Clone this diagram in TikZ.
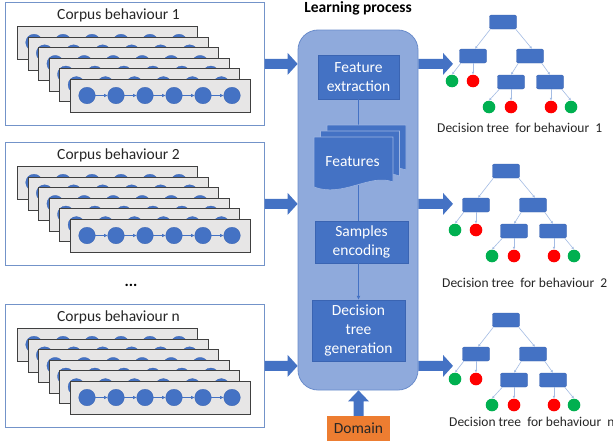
\documentclass[tikz,border=0pt]{standalone}
\usepackage{fontspec}
\setmainfont{Carlito}
\usetikzlibrary{calc,arrows.meta}

\definecolor{accent}{HTML}{4472C4}
\definecolor{accentdark}{HTML}{3A64B2}
\definecolor{panelfill}{HTML}{8FAADC}
\definecolor{paneledge}{HTML}{6A8CCB}
\definecolor{corpusedge}{HTML}{7393C9}
\definecolor{seqfill}{HTML}{E7E6E6}
\definecolor{seqedge}{HTML}{404040}
\definecolor{docedge}{HTML}{9DB5E2}
\definecolor{leafgreen}{HTML}{00B050}
\definecolor{leafred}{HTML}{FF0000}
\definecolor{domainfill}{HTML}{ED7D31}
\definecolor{treeedge}{HTML}{A4BCE4}
\definecolor{inktext}{HTML}{262626}

\tikzset{
  bigfont/.style={font=\fontsize{15.5}{19}\selectfont},
  corpusbox/.style={draw=corpusedge, line width=0.8pt, fill=white,
    minimum width=259, minimum height=123, anchor=north west, inner sep=0},
  seqrect/.style={draw=seqedge, fill=seqfill, line width=0.7pt,
    minimum width=180, minimum height=33, anchor=north west, inner sep=0},
  seqdot/.style={circle, fill=accent, draw=accentdark, line width=0.3pt,
    minimum size=16.6, inner sep=0},
  seqlink/.style={draw=accent, line width=0.6pt, -{Latex[length=3.5pt,width=3.5pt]}},
  titletext/.style={bigfont, text=inktext, inner sep=0},
  learnbox/.style={draw=paneledge, line width=0.8pt, fill=panelfill,
    rounded corners=20pt, minimum width=120, minimum height=360, inner sep=0},
  procbox/.style={bigfont, fill=accent, draw=accentdark, line width=0.5pt,
    text=white, align=center, inner sep=0},
  proctext/.style={bigfont, text=white, inner sep=0},
  procline/.style={draw=accent, line width=0.7pt},
  docstyle/.style={fill=accent, draw=docedge, line width=0.6pt},
  fatfill/.style={fill=accent},
  domainbox/.style={bigfont, fill=domainfill, text=inktext,
    minimum width=63, minimum height=25, inner sep=0},
  tbox/.style={fill=accent, draw=accentdark, line width=0.4pt, rounded corners=2pt,
    minimum width=27, minimum height=14, inner sep=0},
  leafg/.style={circle, fill=leafgreen, minimum size=12.6, inner sep=0},
  leafr/.style={circle, fill=leafred, minimum size=12.6, inner sep=0},
  tedge/.style={draw=treeedge, line width=0.6pt, -{Latex[length=2.6pt,width=2.6pt]}},
  tlabel/.style={font=\fontsize{13.5}{15}\selectfont, text=inktext, inner sep=0, anchor=west}
}

% a corpus panel: #1 name, #2 top edge, #3 title
\newcommand\corpusstack[3]{%
  \node[corpusbox] (#1) at (5,#2) {};
  \node[titletext] (#1t) at (118.5,{#2+13}) {#3};
  \foreach \k in {0,...,5}{
    \node[seqrect] (#1-\k) at ({17+10.6*\k},{#2+24+10.6*\k}) {};
    \foreach \j in {0,...,5}{
      \node[seqdot] (#1-\k-\j) at ({34+10.6*\k+29*\j},{#2+40.5+10.6*\k}) {};
    }
    \foreach \j [evaluate=\j as \i using int(\j+1)] in {0,...,4}{
      \draw[seqlink] (#1-\k-\j) -- (#1-\k-\i);
    }
  }
}

% a block arrow pointing right, between two named coordinates
\newcommand\fatright[2]{%
  \fill[fatfill] ($(#1)+(0,-5)$) -- ($(#2)+(-10,-5)$) -- ($(#2)+(-10,-11)$)
    -- (#2) -- ($(#2)+(-10,11)$) -- ($(#2)+(-10,5)$) -- ($(#1)+(0,5)$) -- cycle;
}
% a block arrow pointing up (towards smaller y)
\newcommand\fatup[2]{%
  \fill[fatfill] ($(#1)+(-5,0)$) -- ($(#2)+(-5,11)$) -- ($(#2)+(-10.5,11)$)
    -- (#2) -- ($(#2)+(10.5,11)$) -- ($(#2)+(5,11)$) -- ($(#1)+(5,0)$) -- cycle;
}

% one stacked sheet of the "Features" document
\newcommand\featsheet[2]{%
  \filldraw[docstyle, shift={(#1,#2)}] (314,137) -- (393,137) -- (393,182)
    .. controls (370,173) and (343,198) .. (314,187) -- cycle;
}

% a small decision tree: #1 prefix, root centre at (#2,#3)
\newcommand\dtree[3]{%
  \begin{scope}[shift={(#2,#3)}]
    \node[tbox] (#1r) at (0,0) {};
    \node[tbox] (#1L) at (-30,34) {};
    \node[tbox] (#1R) at (27,34) {};
    \node[tbox] (#1RL) at (8,60) {};
    \node[tbox] (#1RR) at (47,60) {};
    \node[leafg] (#1LL) at (-51,59) {};
    \node[leafr] (#1LR) at (-30,59) {};
    \node[leafg] (#1RLL) at (-14,85) {};
    \node[leafr] (#1RLR) at (8,85) {};
    \node[leafr] (#1RRL) at (48,85) {};
    \node[leafg] (#1RRR) at (68,85) {};
    \draw[tedge] ([xshift=1pt]#1r.south west) -- ([xshift=2pt]#1L.north);
    \draw[tedge] ([xshift=-1pt]#1r.south east) -- ([xshift=2pt]#1R.north);
    \draw[tedge] ([xshift=1.5pt]#1L.south west) -- (#1LL.north);
    \draw[tedge] (#1L.south) -- (#1LR.north);
    \draw[tedge] ([xshift=2pt]#1R.south west) -- (#1RL.north);
    \draw[tedge] ([xshift=-2pt]#1R.south east) -- (#1RR.north);
    \draw[tedge] ([xshift=2pt]#1RL.south west) -- (#1RLL.north);
    \draw[tedge] (#1RL.south) -- (#1RLR.north);
    \draw[tedge] (#1RRL.north |- #1RR.south) -- (#1RRL.north);
    \draw[tedge] ([xshift=-2pt]#1RR.south east) -- (#1RRR.north);
  \end{scope}
}

\begin{document}
\begin{tikzpicture}[x=1pt, y=-1pt]
  \fill[white] (0,0) rectangle (613,447);
  \useasboundingbox (0,0) rectangle (613,447);

  % input corpora
  \corpusstack{c1}{2}{Corpus behaviour 1}
  \corpusstack{c2}{142}{Corpus behaviour 2}
  \corpusstack{c3}{304}{Corpus behaviour n}
  \node[font=\fontsize{16}{19}\selectfont\bfseries, inner sep=0] (gap) at (131,285) {...};

  % learning process panel
  \node[learnbox] (learn) at (358,210) {};
  \node[font=\fontsize{15.5}{19}\selectfont\bfseries, inner sep=0] (lptitle) at (358,8) {Learning process};

  \node[procbox, minimum width=81, minimum height=44] (fext) at (358.5,77) {Feature\\extraction};
  \node[procbox, minimum width=93, minimum height=42] (samp) at (361.5,242) {Samples\\encoding};
  \node[procbox, minimum width=93, minimum height=61] (dtg) at (358.5,330.5) {Decision\\tree\\generation};

  \draw[procline] (fext.south) -- (fext.south |- samp.north);
  \draw[procline, -{Latex[length=4pt,width=4pt]}] (samp.south -| fext.south) -- (dtg.north -| fext.south);

  \featsheet{13}{-12}
  \featsheet{6.5}{-6}
  \featsheet{0}{0}
  \node[proctext] (feat) at (352.5,162) {Features};

  % domain input
  \node[domainbox] (dom) at (358.5,428.5) {Domain};
  \coordinate (domtip) at (dom.north |- learn.south);
  \fatup{dom.north}{domtip}

  % arrows into and out of the panel
  \foreach \c/\t in {c1/t1, c2/t2, c3/t3}{
    \coordinate (\c-out) at (\c.east);
    \coordinate (\c-in) at (\c.east -| learn.west);
    \coordinate (\t-from) at (\c.east -| learn.east);
    \coordinate (\t-in) at (453,0 |- \c.east);
  }
  \fatright{c1-out}{c1-in}
  \fatright{c2-out}{c2-in}
  \fatright{c3-out}{c3-in}
  \fatright{t1-from}{t1-in}
  \fatright{t2-from}{t2-in}
  \fatright{t3-from}{t3-in}

  % resulting trees
  \dtree{a}{503}{22}
  \dtree{b}{506}{171}
  \dtree{d}{506}{320}
  \node[tlabel] (lab1) at (437,128) {Decision tree\ \ for behaviour\ \ 1};
  \node[tlabel] (lab2) at (442,283) {Decision tree\ \ for behaviour\ \ 2};
  \node[tlabel] (lab3) at (449,422) {Decision tree\ \ for behaviour\ \ n};
\end{tikzpicture}
\end{document}
